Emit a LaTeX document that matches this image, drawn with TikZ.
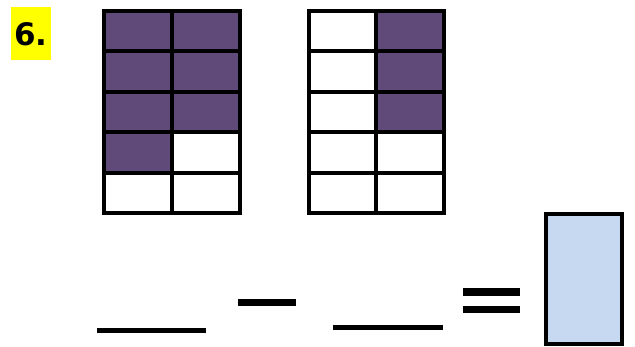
\documentclass[tikz,border=0pt]{standalone}
\usepackage{fontspec}
\setmainfont{DejaVu Sans}
\definecolor{shade}{HTML}{5F4A7A}
\definecolor{answer}{HTML}{C6D9F0}
\definecolor{hl}{HTML}{FFFF00}
\begin{document}
\begin{tikzpicture}[x=1pt,y=-1pt,
  gridline/.style={draw=black,line width=4pt},
  filled/.style={fill=shade},
  bar/.style={fill=black}]
\useasboundingbox (0,0) rectangle (635,347);
% label
\fill[hl] (11,7) rectangle (51,60);
\node[font=\bfseries\fontsize{31}{31}\selectfont,inner sep=0pt] (lbl) at (31,34) {6.};
% grid 1
\foreach \c/\r in {0/0,1/0,0/1,1/1,0/2,1/2,0/3}
  \fill[filled] ({104+68*\c},{11+40.4*\r}) rectangle ++(68,40.4);
\foreach \i in {1,2,3,4} \draw[gridline] (104,{11+40.4*\i}) -- (240,{11+40.4*\i});
\draw[gridline] (172,11) -- (172,213);
\draw[gridline] (104,11) rectangle (240,213);
% grid 2
\foreach \r in {0,1,2}
  \fill[filled] (376,{11+40.4*\r}) rectangle ++(68,40.4);
\foreach \i in {1,2,3,4} \draw[gridline] (309,{11+40.4*\i}) -- (444,{11+40.4*\i});
\draw[gridline] (376,11) -- (376,213);
\draw[gridline] (309,11) rectangle (444,213);
% answer line and operators
\fill[bar] (97,328.5) rectangle (206,333.5);
\fill[bar] (238,299.5) rectangle (296,306.5);
\fill[bar] (333,325) rectangle (443,330);
\fill[bar] (463,288) rectangle (520,296);
\fill[bar] (463,306) rectangle (520,313);
\draw[fill=answer,line width=4pt] (546,214) rectangle (622,344);
\end{tikzpicture}
\end{document}
